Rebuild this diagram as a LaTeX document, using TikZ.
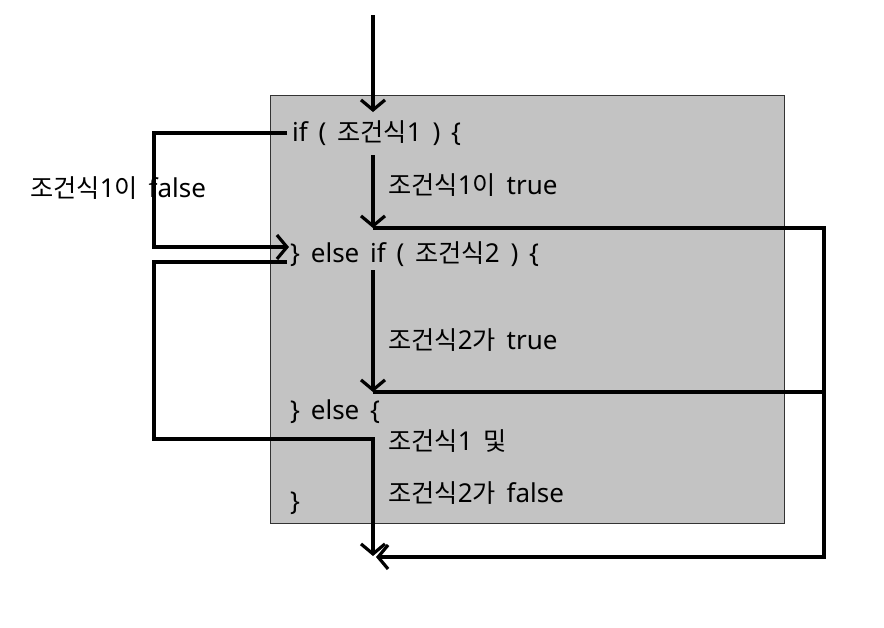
\documentclass[tikz,border=0pt]{standalone}
\usepackage{fontspec}
\setmainfont[WordSpace=1.6]{Noto Sans}
\newfontfamily\kr[Scale=0.97]{Noto Sans CJK KR}
\usetikzlibrary{arrows.meta}
\definecolor{boxgray}{RGB}{195,195,195}
\tikzset{
  lbl/.style={anchor=west, inner sep=0pt, font=\fontsize{26}{28}\selectfont},
  conn/.style={line width=3.2pt, line join=miter},
  arr/.style={conn, -{Straight Barb[length=10pt,width=24pt,line width=3.2pt]}},
}
\begin{document}
\begin{tikzpicture}[x=1pt,y=-1pt]
\useasboundingbox (0,0) rectangle (884,627);
\node[draw=black!80, line width=0.9pt, fill=boxgray, minimum width=514pt, minimum height=428pt, anchor=north west, inner sep=0pt] (box) at (270,95) {};
% texts
\node[lbl] (if1) at (292,133) {if ( {\kr 조건식}1 ) \{};
\node[lbl] (elif) at (290,254) {\} else if ( {\kr 조건식}2 ) \{};
\node[lbl] (t1) at (388,185) {{\kr 조건식}1{\kr 이} true};
\node[lbl] (t2) at (388,340) {{\kr 조건식}2{\kr 가} true};
\node[lbl] (els) at (290,412) {\} else \{};
\node[lbl] (fa) at (388,441) {{\kr 조건식}1 {\kr 및}};
\node[lbl] (fb) at (388,493) {{\kr 조건식}2{\kr 가} false};
\node[lbl] (cl) at (290,503) {\}};
\node[lbl] (f1) at (30,188) {{\kr 조건식}1{\kr 이} false};
% coordinates
\coordinate (top) at (373,15);
\coordinate (a1) at (373,112);
\coordinate (ifL) at (287,133);
\coordinate (L1a) at (154,133);
\coordinate (L1b) at (154,247);
\coordinate (elifIn) at (289,247);
\coordinate (t1s) at (373,155);
\coordinate (t1e) at (373,228);
\coordinate (R1) at (824,228);
\coordinate (R2) at (824,557);
\coordinate (endR) at (376,557);
\coordinate (elifL) at (287,262);
\coordinate (L2a) at (154,262);
\coordinate (L2b) at (154,439);
\coordinate (L2c) at (373,439);
\coordinate (endD) at (373,556);
\coordinate (t2s) at (373,270);
\coordinate (t2e) at (373,392);
\coordinate (R3) at (824,392);
% connectors
\draw[arr] (top) -- (a1);
\draw[arr] (ifL) -- (L1a) -- (L1b) -- (elifIn);
\draw[arr] (t1s) -- (t1e);
\draw[arr] (t1e) -- (R1) -- (R2) -- (endR);
\draw[arr] (elifL) -- (L2a) -- (L2b) -- (L2c) -- (endD);
\draw[arr] (t2s) -- (t2e);
\draw[conn] (t2e) -- (R3);
\end{tikzpicture}
\end{document}
